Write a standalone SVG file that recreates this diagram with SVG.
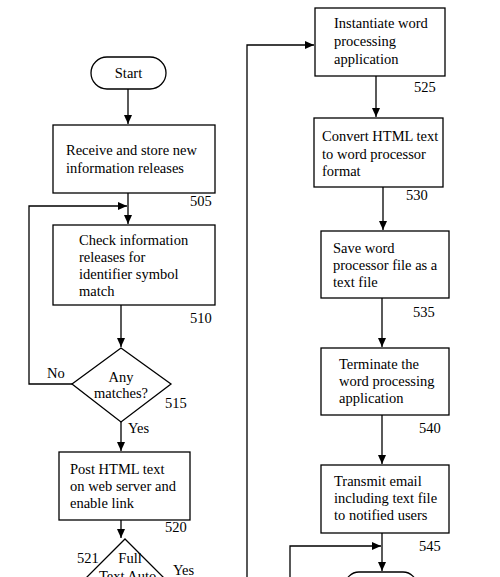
<svg xmlns="http://www.w3.org/2000/svg" width="500" height="577" viewBox="0 0 500 577">
<defs>
<marker id="ah" markerWidth="10" markerHeight="10" refX="9" refY="5" orient="auto" markerUnits="userSpaceOnUse">
<path d="M0,1 L9,5 L0,9 Z" fill="#000"/>
</marker>
<style>
.n{fill:#fff;stroke:#000;stroke-width:1.3}
.t{font-family:"Liberation Serif","Times New Roman",serif;font-size:14.5px;fill:#000}
.c{text-anchor:middle}
.e{fill:none;stroke:#000;stroke-width:1.3}
</style>
</defs>
<rect width="500" height="577" fill="#fff"/>
<g id="connectors">
<path class="e" d="M128,89 V124" marker-end="url(#ah)"/>
<path class="e" d="M128,193 V224" marker-end="url(#ah)"/>
<path class="e" d="M72,384 H29 V206 H127" marker-end="url(#ah)"/>
<path class="e" d="M121,305 V347" marker-end="url(#ah)"/>
<path class="e" d="M121,422 V451" marker-end="url(#ah)"/>
<path class="e" d="M121,520 V538" marker-end="url(#ah)"/>
<path class="e" d="M247,577 V45 H314" marker-end="url(#ah)"/>
<path class="e" d="M376,76 V117" marker-end="url(#ah)"/>
<path class="e" d="M383,187 V230" marker-end="url(#ah)"/>
<path class="e" d="M382,298 V347" marker-end="url(#ah)"/>
<path class="e" d="M382,415 V464" marker-end="url(#ah)"/>
<path class="e" d="M382,533 V571" marker-end="url(#ah)"/>
<path class="e" d="M290,577 V546 H381" marker-end="url(#ah)"/>
<text class="t" x="47" y="378">No</text>
<text class="t" x="128" y="433">Yes</text>
<text class="t" x="173" y="575">Yes</text>
</g>
<g id="start">
<rect class="n" x="91" y="57" width="75" height="32" rx="16"/>
<text class="t c" x="128.5" y="78">Start</text>
</g>
<g id="n505">
<rect class="n" x="53" y="125" width="162" height="68"/>
<text class="t" x="66" y="155">Receive and store new</text>
<text class="t" x="66" y="173">information releases</text>
<text class="t" x="190" y="206">505</text>
</g>
<g id="n510">
<rect class="n" x="53" y="225" width="162" height="80"/>
<text class="t" x="79" y="245">Check information</text>
<text class="t" x="79" y="262">releases for</text>
<text class="t" x="79" y="279">identifier symbol</text>
<text class="t" x="79" y="296">match</text>
<text class="t" x="190" y="323">510</text>
</g>
<g id="n515">
<path class="n" d="M121,348 L171,384 L121,422 L72,384 Z"/>
<text class="t c" x="121" y="382">Any</text>
<text class="t c" x="121" y="398">matches?</text>
<text class="t" x="165" y="408">515</text>
</g>
<g id="n520">
<rect class="n" x="59" y="452" width="131" height="68"/>
<text class="t" x="70" y="474">Post HTML text</text>
<text class="t" x="70" y="491">on web server and</text>
<text class="t" x="70" y="508">enable link</text>
<text class="t" x="165" y="532">520</text>
</g>
<g id="n521">
<path class="n" d="M125,539 L170,584 L125,629 L80,584 Z"/>
<text class="t c" x="130" y="563">Full</text>
<text class="t c" x="130" y="581">Text Auto-</text>
<text class="t" x="77" y="563">521</text>
</g>
<g id="n525">
<rect class="n" x="315" y="8" width="130" height="68"/>
<text class="t" x="334" y="28">Instantiate word</text>
<text class="t" x="334" y="46">processing</text>
<text class="t" x="334" y="64">application</text>
<text class="t" x="414" y="92">525</text>
</g>
<g id="n530">
<rect class="n" x="314" y="118" width="129" height="69"/>
<text class="t" x="322" y="141">Convert HTML text</text>
<text class="t" x="322" y="159">to word processor</text>
<text class="t" x="322" y="176">format</text>
<text class="t" x="406" y="200">530</text>
</g>
<g id="n535">
<rect class="n" x="321" y="231" width="128" height="67"/>
<text class="t" x="333" y="253">Save word</text>
<text class="t" x="333" y="270">processor file as a</text>
<text class="t" x="333" y="287">text file</text>
<text class="t" x="413" y="317">535</text>
</g>
<g id="n540">
<rect class="n" x="321" y="348" width="128" height="67"/>
<text class="t" x="339" y="369">Terminate the</text>
<text class="t" x="339" y="386">word processing</text>
<text class="t" x="339" y="403">application</text>
<text class="t" x="419" y="433">540</text>
</g>
<g id="n545">
<rect class="n" x="321" y="465" width="128" height="68"/>
<text class="t" x="334" y="486">Transmit email</text>
<text class="t" x="334" y="503">including text file</text>
<text class="t" x="334" y="520">to notified users</text>
<text class="t" x="419" y="551">545</text>
</g>
<g id="end">
<rect class="n" x="345" y="572" width="72" height="32" rx="14"/>
</g>
</svg>
